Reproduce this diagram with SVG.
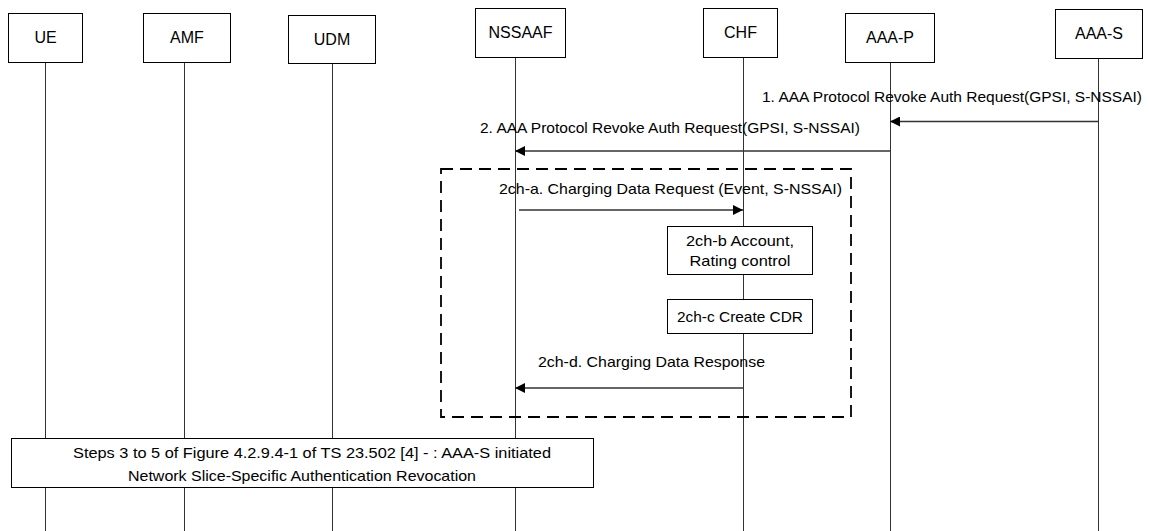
<svg xmlns="http://www.w3.org/2000/svg" width="1149" height="531" viewBox="0 0 1149 531">
<style>
.box{fill:#fff;stroke:#000;stroke-width:1}
.life{stroke:#333;stroke-width:1}
.msg{stroke:#333;stroke-width:1.3;fill:none}
.lbl{font-family:"Liberation Sans",Arial,sans-serif;font-size:16px;fill:#000;text-anchor:middle}
.t{font-family:"Liberation Sans",Arial,sans-serif;font-size:14.5px;fill:#000}
.c{text-anchor:middle}
</style>
<defs>
<marker id="ah" viewBox="0 0 10 10" refX="10" refY="5" markerWidth="10" markerHeight="10" markerUnits="userSpaceOnUse" orient="auto">
<path d="M0,0 L10,5 L0,10 z" fill="#000"/>
</marker>
</defs>
<g id="lifelines">
<line class="life" x1="45.5" y1="62" x2="45.5" y2="531"/>
<line class="life" x1="184.5" y1="62" x2="184.5" y2="531"/>
<line class="life" x1="332.5" y1="63" x2="332.5" y2="531"/>
<line class="life" x1="515.5" y1="57" x2="515.5" y2="531"/>
<line class="life" x1="743.5" y1="57" x2="743.5" y2="531"/>
<line class="life" x1="890.5" y1="62" x2="890.5" y2="531"/>
<line class="life" x1="1098.5" y1="58" x2="1098.5" y2="531"/>
</g>
<g id="node-UE"><rect class="box" x="8.5" y="13.5" width="74" height="49"/><text class="lbl" x="45.5" y="43">UE</text></g>
<g id="node-AMF"><rect class="box" x="143.5" y="13.5" width="87" height="49"/><text class="lbl" x="187" y="43">AMF</text></g>
<g id="node-UDM"><rect class="box" x="288.5" y="15.5" width="87" height="48"/><text class="lbl" x="332" y="45">UDM</text></g>
<g id="node-NSSAAF"><rect class="box" x="475.5" y="8.5" width="90" height="49"/><text class="lbl" x="520.5" y="38">NSSAAF</text></g>
<g id="node-CHF"><rect class="box" x="703.5" y="8.5" width="74" height="49"/><text class="lbl" x="740.5" y="38">CHF</text></g>
<g id="node-AAA-P"><rect class="box" x="845.5" y="13.5" width="89" height="49"/><text class="lbl" x="890" y="43">AAA-P</text></g>
<g id="node-AAA-S"><rect class="box" x="1055.5" y="9.5" width="87" height="49"/><text class="lbl" x="1099" y="39">AAA-S</text></g>
<g id="group-charging">
<rect x="441" y="169" width="410" height="248" fill="none" stroke="#000" stroke-width="1.8" stroke-dasharray="12,7"/>
</g>
<g id="node-2ch-b"><rect class="box" x="667.5" y="226.5" width="145" height="48"/><text class="t c" x="740" y="246" textLength="108" lengthAdjust="spacingAndGlyphs">2ch-b Account,</text><text class="t c" x="740" y="266" textLength="101" lengthAdjust="spacingAndGlyphs">Rating control</text></g>
<g id="node-2ch-c"><rect class="box" x="667.5" y="299.5" width="145" height="34"/><text class="t c" x="740" y="322" textLength="126" lengthAdjust="spacingAndGlyphs">2ch-c Create CDR</text></g>
<g id="node-steps"><rect class="box" x="11.5" y="438.5" width="582" height="49"/>
<text class="t c" x="312" y="458" textLength="478" lengthAdjust="spacingAndGlyphs">Steps 3 to 5 of Figure 4.2.9.4-1 of TS 23.502 [4] - : AAA-S initiated</text>
<text class="t c" x="302" y="481" textLength="348" lengthAdjust="spacingAndGlyphs">Network Slice-Specific Authentication Revocation</text>
</g>
<g id="connectors">
<line class="msg" x1="1098" y1="121.5" x2="890" y2="121.5" marker-end="url(#ah)"/>
<text class="t" x="762" y="102" textLength="380" lengthAdjust="spacingAndGlyphs">1. AAA Protocol Revoke Auth Request(GPSI, S-NSSAI)</text>
<line class="msg" x1="890" y1="151" x2="515" y2="151" marker-end="url(#ah)"/>
<text class="t" x="480" y="133" textLength="380" lengthAdjust="spacingAndGlyphs">2. AAA Protocol Revoke Auth Request(GPSI, S-NSSAI)</text>
<line class="msg" x1="519" y1="210" x2="743" y2="210" marker-end="url(#ah)"/>
<text class="t" x="499" y="194" textLength="343" lengthAdjust="spacingAndGlyphs">2ch-a. Charging Data Request (Event, S-NSSAI)</text>
<line class="msg" x1="743" y1="388" x2="515" y2="388" marker-end="url(#ah)"/>
<text class="t" x="538" y="367" textLength="227" lengthAdjust="spacingAndGlyphs">2ch-d. Charging Data Response</text>
</g>
</svg>
